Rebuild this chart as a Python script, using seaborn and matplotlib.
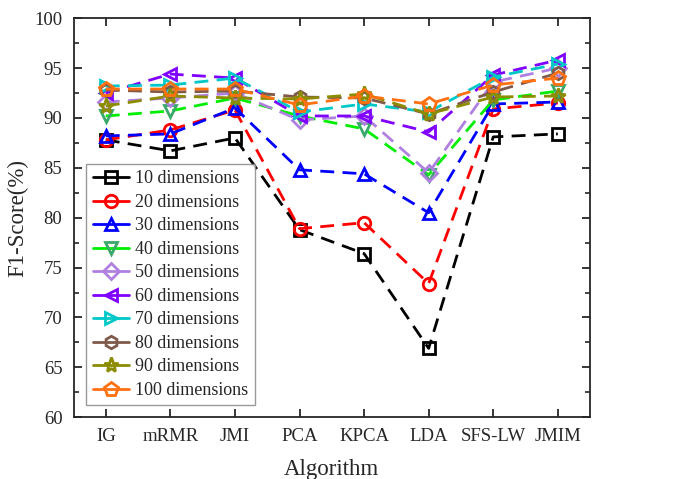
import numpy as np
import pandas as pd
import matplotlib
matplotlib.use("Agg")
import matplotlib.pyplot as plt
import seaborn as sns
from matplotlib.ticker import MultipleLocator

algorithms = ["IG", "mRMR", "JMI", "PCA", "KPCA", "LDA", "SFS-LW", "JMIM"]
series_names = ["10 dimensions", "20 dimensions", "30 dimensions", "40 dimensions",
                "50 dimensions", "60 dimensions", "70 dimensions", "80 dimensions",
                "90 dimensions", "100 dimensions"]

d10 = [87.8, 86.7, 88.0, 78.8, 76.4, 66.9, 88.1, 88.4]
d20 = [87.8, 88.8, 90.8, 78.9, 79.5, 73.4, 90.9, 91.5]
d30 = [88.2, 88.4, 91.0, 84.8, 84.4, 80.5, 91.4, 91.6]
d40 = [90.2, 90.7, 92.0, 90.2, 88.9, 84.3, 91.8, 92.7]
d50 = [91.6, 92.0, 92.5, 89.8, 90.2, 84.5, 93.6, 95.0]
d60 = [92.5, 94.4, 94.0, 90.2, 90.2, 88.6, 94.3, 95.8]
d70 = [93.2, 93.3, 94.0, 90.6, 91.4, 90.6, 94.1, 95.4]
d80 = [92.8, 92.6, 92.7, 92.1, 92.0, 90.4, 92.6, 94.5]
d90 = [91.2, 92.2, 92.0, 91.9, 92.4, 90.4, 92.1, 92.2]
d100 = [92.9, 92.9, 92.9, 91.3, 92.2, 91.4, 93.3, 94.0]
all_series = [d10, d20, d30, d40, d50, d60, d70, d80, d90, d100]

line_colors = ["#000000", "#ff0000", "#0000ff", "#00ee00", "#b080e0",
               "#8000ff", "#00c8c8", "#7f5a4a", "#8c8c00", "#ff7010"]
marker_colors = ["#000000", "#ff0000", "#0000ff", "#3aa86a", "#b080e0",
                 "#8000ff", "#00c8c8", "#7f5a4a", "#8c8c00", "#ff7010"]
markers = ["s", "o", "^", "v", "D", "<", ">", "h", "*", "p"]
msizes = [8, 9, 9, 9, 8, 9, 9, 9, 11, 10]

sns.set_style("ticks")
plt.rcParams["font.family"] = ["Liberation Serif", "DejaVu Serif"]
plt.rcParams["mathtext.fontset"] = "stix"

fig = plt.figure(figsize=(7.0, 4.79), dpi=100)
ax = fig.add_axes([0.105, 0.129, 0.738, 0.833])

xs = np.arange(len(algorithms))
for name, vals, lc, mc, mk, ms in zip(series_names, all_series, line_colors,
                                       marker_colors, markers, msizes):
    df = pd.DataFrame({"x": xs, "y": vals})
    sns.lineplot(data=df, x="x", y="y", ax=ax, color=lc, lw=2,
                 label=name, marker=mk, markersize=ms,
                 markerfacecolor="none", markeredgecolor=mc,
                 markeredgewidth=2, dashes=(5, 3))

ax.set_xlim(-0.5, 7.5)
ax.set_ylim(60, 100)
ax.set_xticks(xs)
ax.set_xticklabels(algorithms)
ax.yaxis.set_major_locator(MultipleLocator(5))
ax.yaxis.set_minor_locator(MultipleLocator(2.5))
ax.tick_params(axis="both", which="major", direction="in", length=6, width=1.3,
               top=True, right=True, labelsize=13.5, pad=8)
ax.tick_params(axis="y", which="minor", direction="in", length=3.5, width=1.2,
               right=True)
for s in ax.spines.values():
    s.set_linewidth(1.3)
ax.set_xlabel("Algorithm", fontsize=16.5, labelpad=10)
ax.set_ylabel("F1-Score(%)", fontsize=16.5, labelpad=4)

leg = ax.legend(loc="lower left", bbox_to_anchor=(0.025, 0.03), fontsize=13,
                frameon=True, fancybox=False, edgecolor="#808080",
                handlelength=2.0, handletextpad=0.35, labelspacing=0.36,
                borderpad=0.35, borderaxespad=0)
leg.get_frame().set_linewidth(1.0)
for h in leg.get_lines():
    h.set_linestyle("-")

fig.savefig("out.png", dpi=100)
